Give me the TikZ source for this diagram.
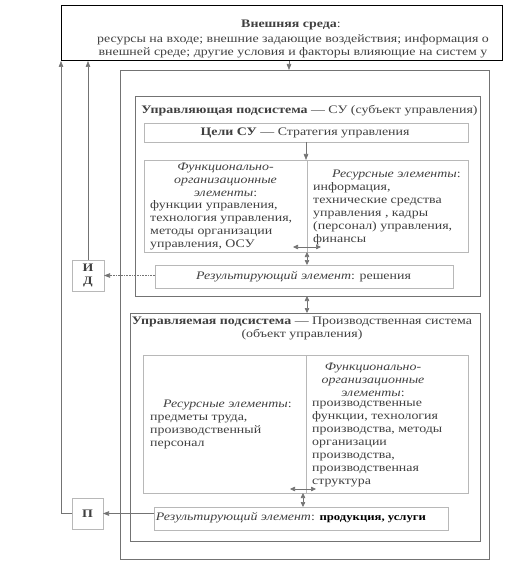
\documentclass[tikz,border=0pt]{standalone}
\usepackage{fontspec}
\setmainfont{Liberation Serif}[FakeStretch=1.21]
\usetikzlibrary{arrows.meta}
\usetikzlibrary{positioning}
\usetikzlibrary{calc}

\definecolor{ink}{gray}{0.25}
\definecolor{frame}{gray}{0.45}
\definecolor{faint}{gray}{0.72}

\begin{document}
\begin{tikzpicture}[x=1pt, y=-1pt,
    txt/.style={font=\fontsize{11.5}{13}\selectfont, text=ink, inner sep=0pt},
    envbox/.style={draw=black, line width=1pt, inner sep=0pt, outer sep=0pt},
    framebox/.style={draw=frame, line width=0.9pt, inner sep=0pt, outer sep=0pt},
    elembox/.style={draw=faint, line width=0.7pt, inner sep=0pt, outer sep=0pt},
    arr/.style={draw=frame, line width=0.6pt, -{Triangle[length=6pt,width=4.5pt]}},
    dbl/.style={draw=frame, line width=0.6pt, {Triangle[length=5pt,width=4.5pt]}-{Triangle[length=5pt,width=4.5pt]}}]

      \useasboundingbox (0,0) rectangle (527,572);

      % boxes
      \node[envbox, minimum width=441pt, minimum height=55pt] (env) at (281.5,33.5) {};
      \node[framebox, minimum width=369pt, minimum height=489pt] (outer) at (304.5,314.5) {};
      \node[framebox, minimum width=345pt, minimum height=200pt] (cs) at (307.5,196) {};
      \node[elembox, minimum width=324pt, minimum height=19pt] (goals) at (306,132.5) {};
      \node[elembox, minimum width=324pt, minimum height=92pt] (cfun) at (306,206) {};
      \node[elembox, minimum width=298pt, minimum height=23pt] (cres) at (304,276.5) {};
      \node[elembox, txt, align=center, minimum width=32pt, minimum height=31pt] (id) at (88,275.5) {\textbf{И}\\\textbf{Д}};
      \node[framebox, minimum width=350pt, minimum height=228pt] (ms) at (305,427) {};
      \node[elembox, minimum width=325pt, minimum height=138pt] (mfun) at (305.5,424) {};
      \node[elembox, minimum width=294pt, minimum height=23pt] (mres) at (301,518.5) {};
      \node[elembox, txt, minimum width=31pt, minimum height=31pt] (p) at (87.5,513.5) {\textbf{П}};

      \draw[elembox] ([xshift=1pt]cfun.north) -- ([xshift=1pt]cfun.south);
      \draw[elembox] ([xshift=0.5pt]mfun.north) -- ([xshift=0.5pt]mfun.south);

      % texts
      \node[txt] (envtitle) at (291,25) {\textbf{Внешняя среда}:};
      \node[txt, align=center] (envtext) at (293,46.5) {ресурсы на входе; внешние задающие воздействия; информация о\\внешней среде; другие условия и факторы влияющие на систем у};

      \node[txt] (cstitle) at (309.5,111) {\textbf{Управляющая подсистема} — СУ (субъект управления)};
      \node[txt] (goalstext) at (305,133) {\textbf{Цели СУ} — Стратегия управления};
      \node[txt, align=center] (cfunhead) at (225.5,180) {\textit{Функционально-}\\\textit{организационные}\\\textit{элементы}:};
      \node[txt, align=left, anchor=west] (cfunbody) at (150,225.5) {функции управления,\\технология управления,\\методы организации\\управления, ОСУ};
      \node[txt, align=left, anchor=west] (cresource) at (313,207) {\hspace*{19pt}\textit{Ресурсные элементы}:\\информация,\\технические средства\\управления , кадры\\(персонал) управления,\\финансы};
      \node[txt] (crestext) at (303.5,276.5) {\textit{Результирующий элемент}: решения};

      \node[txt, align=center] (mstitle) at (302,328) {\textbf{Управляемая подсистема} — Производственная система\\(объект управления)};
      \node[txt, align=left, anchor=west] (mresource) at (150,424) {\hspace*{13pt}\textit{Ресурсные элементы}:\\предметы труда,\\производственный\\персонал};
      \node[txt, align=center] (mfunhead) at (373,379.5) {\textit{Функционально-}\\\textit{организационные}\\\textit{элементы}:};
      \node[txt, align=left, anchor=west] (mfunbody) at (312,444.5) {производственные\\функции, технология\\производства, методы\\организации\\производства,\\производственная\\структура};
      \node[txt] (mrestext) at (291,518) {\textit{Результирующий элемент}: {\fontsize{10.5}{13}\selectfont\bfseries\color{black}продукция, услуги}};

      % connectors
      \coordinate (envout) at (289,61);
      \draw[arr] (envout) -- (envout |- outer.north);
      \draw[arr] (goals.south) -- (cfun.north);
      \coordinate (cfunl) at (293,247);
      \coordinate (cfunr) at (321,247);
      \draw[dbl] (cfunl) -- (cfunr);
      \draw[dbl] ([xshift=1pt]cfun.south) -- ([xshift=1pt]cfun.south |- cres.north);
      \draw[dbl] ([xshift=-0.5pt]cs.south) -- ([xshift=-0.5pt]cs.south |- ms.north);
      \coordinate (mfunl) at (290,489);
      \coordinate (mfunr) at (316,489);
      \draw[dbl] (mfunl) -- (mfunr);
      \draw[dbl] ([xshift=-2.5pt]mfun.south) -- ([xshift=-2.5pt]mfun.south |- mres.north);

      \draw[arr, densely dotted] (cres.west |- id.east) -- (id.east);
      \draw[arr] (mres.west |- p.east) -- (p.east);
      \draw[arr] (id.north) -- (id.north |- env.south);
      \draw[arr] (p.west) -| (env.south west);

    \end{tikzpicture}
\end{document}
